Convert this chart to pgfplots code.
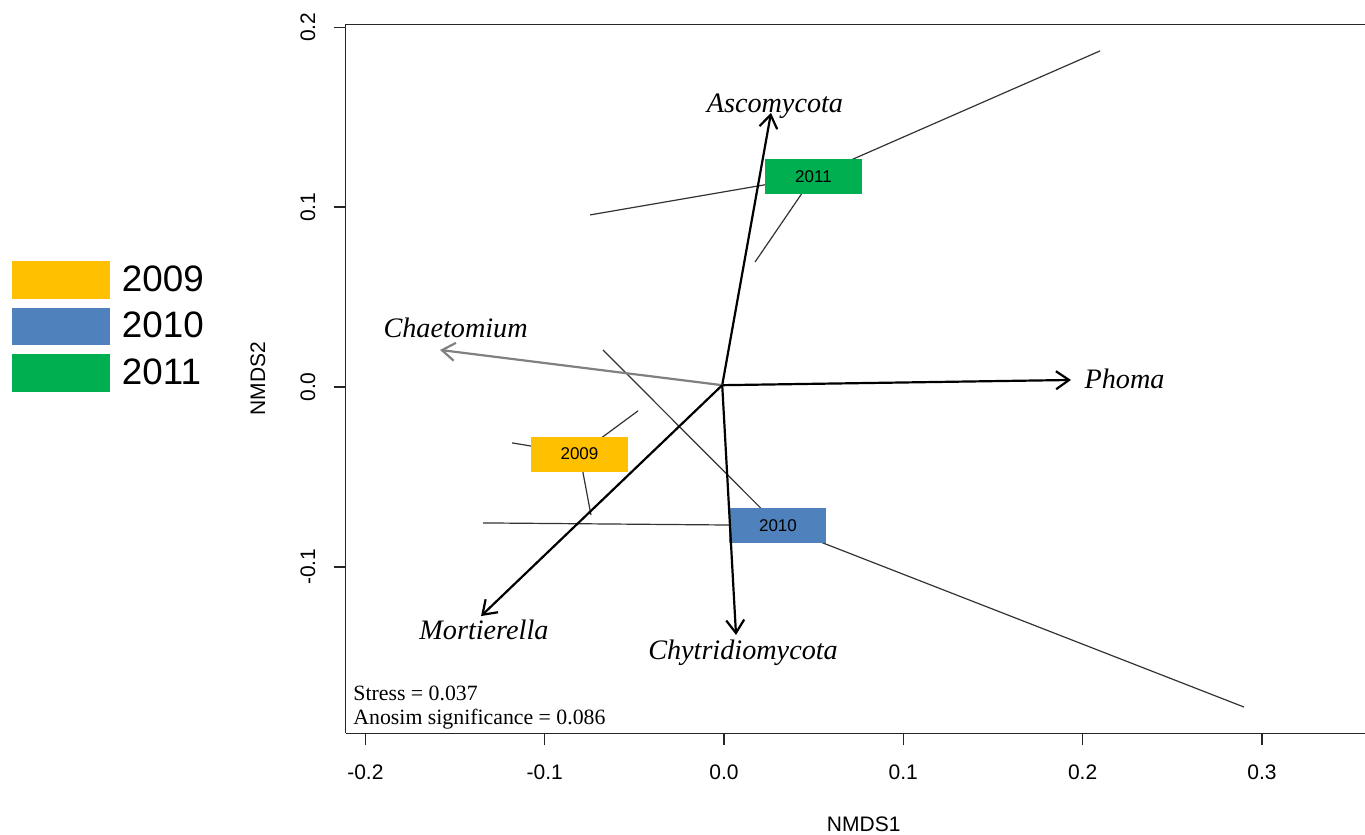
\documentclass[border=0pt]{standalone}
\usepackage{fontspec}
\setmainfont{Liberation Serif}
\setsansfont{Liberation Sans}
\usepackage{pgfplots}
\pgfplotsset{compat=1.18}
\usetikzlibrary{arrows.meta,calc}
\definecolor{c2009}{HTML}{FFC000}
\definecolor{c2010}{HTML}{4F81BD}
\definecolor{c2011}{HTML}{00B050}
\definecolor{spider}{HTML}{333333}
\begin{document}
\begin{tikzpicture}
\begin{axis}[
  scale only axis,
  width=511.9bp, height=354.4bp,
  xmin=-0.2110, xmax=0.36, ymin=-0.1926, ymax=0.2016,
  axis x line=box, axis y line=left,
  axis line style={-, line width=0.75bp, black!85},
  xtick={-0.2,-0.1,0,0.1,0.2,0.3}, ytick={-0.1,0,0.1,0.2},
  xticklabels={-0.2,-0.1,0.0,0.1,0.2,0.3}, yticklabels={-0.1,0.0,0.1,0.2},
  tick align=outside, xtick pos=bottom, ytick pos=left,
  major tick length=6bp, tick style={line width=0.75bp, black!85},
  xticklabel style={font=\sffamily\fontsize{10.5bp}{12bp}\selectfont, anchor=north, inner sep=0pt},
  yticklabel style={font=\sffamily\fontsize{10.5bp}{12bp}\selectfont, rotate=90, anchor=south, inner sep=0pt},
  xticklabel shift=9.8bp, yticklabel shift=9bp,
  xlabel={NMDS1}, ylabel={NMDS2},
  xlabel style={at={(rel axis cs:0.506,0)}, anchor=center, yshift=-45.5bp, font=\sffamily\fontsize{10.5bp}{12bp}\selectfont},
  ylabel style={at={($(rel axis cs:0,0.5)+(-43.9bp,0)$)}, anchor=center, font=\sffamily\fontsize{10.5bp}{12bp}\selectfont},
  legend style={at={(axis description cs:-0.326,0.6663)}, anchor=north west, draw=none, fill=none,
    inner sep=0pt, outer sep=0pt, row sep=4.5bp, column sep=6bp,
    font=\sffamily\fontsize{18.4bp}{20bp}\selectfont, nodes={inner sep=0pt}},
  legend cell align=left,
  legend image code/.code={\fill[#1] (0bp,-9.4bp) rectangle (49bp,9.4bp);},
]
\addlegendimage{fill=c2009, draw=none}\addlegendentry{2009}
\addlegendimage{fill=c2010, draw=none}\addlegendentry{2010}
\addlegendimage{fill=c2011, draw=none}\addlegendentry{2011}

% spider segments 2011
\addplot[spider, line width=0.6bp, forget plot] coordinates {(0.0499,0.1171) (0.2097,0.1869)};
\addplot[spider, line width=0.6bp, forget plot] coordinates {(0.0499,0.1171) (-0.0747,0.0957)};
\addplot[spider, line width=0.6bp, forget plot] coordinates {(0.0499,0.1171) (0.0173,0.0695)};
% spider segments 2009
\addplot[spider, line width=0.6bp, forget plot] coordinates {(-0.0806,-0.0373) (-0.1182,-0.0311)};
\addplot[spider, line width=0.6bp, forget plot] coordinates {(-0.0806,-0.0373) (-0.0480,-0.0133)};
\addplot[spider, line width=0.6bp, forget plot] coordinates {(-0.0806,-0.0373) (-0.0742,-0.0712)};
% spider segments 2010
\addplot[spider, line width=0.6bp, forget plot] coordinates {(0.0301,-0.0770) (-0.0675,0.0206)};
\addplot[spider, line width=0.6bp, forget plot] coordinates {(0.0301,-0.0770) (-0.1344,-0.0756)};
\addplot[spider, line width=0.6bp, forget plot] coordinates {(0.0301,-0.0770) (0.2900,-0.1780)};

% centroid labels
\node[fill=c2011, minimum width=48.5bp, minimum height=17.5bp, inner sep=0pt, font=\sffamily\fontsize{8.5bp}{10bp}\selectfont] at (axis cs:0.0499,0.1171) {2011};
\node[fill=c2009, minimum width=48.5bp, minimum height=17.5bp, inner sep=0pt, font=\sffamily\fontsize{8.5bp}{10bp}\selectfont] at (axis cs:-0.0806,-0.0373) {2009};
\node[fill=c2010, minimum width=48.5bp, minimum height=17.5bp, inner sep=0pt, font=\sffamily\fontsize{8.5bp}{10bp}\selectfont] at (axis cs:0.0301,-0.0770) {2010};

% vectors
\addplot[black, line width=1.1bp, -{Straight Barb[length=6.5bp, width=9bp]}, forget plot] coordinates {(-0.001,0.001) (0.0262,0.1524)};
\addplot[black, line width=1.1bp, -{Straight Barb[length=6.5bp, width=9bp]}, forget plot] coordinates {(-0.001,0.001) (0.1935,0.0039)};
\addplot[black!50, line width=1.1bp, -{Straight Barb[length=6.5bp, width=9bp]}, forget plot] coordinates {(-0.001,0.001) (-0.1584,0.0206)};
\addplot[black, line width=1.1bp, -{Straight Barb[length=6.5bp, width=9bp]}, forget plot] coordinates {(-0.001,0.001) (-0.1355,-0.1274)};
\addplot[black, line width=1.1bp, -{Straight Barb[length=6.5bp, width=9bp]}, forget plot] coordinates {(-0.001,0.001) (0.0067,-0.1379)};

% vector labels
\node[anchor=base, inner sep=0pt, font=\itshape\fontsize{14.1bp}{16bp}\selectfont] at (axis cs:0.0284,0.1529) {Ascomycota};
\node[anchor=base, inner sep=0pt, font=\itshape\fontsize{14.1bp}{16bp}\selectfont] at (axis cs:0.2234,-0.0006) {Phoma};
\node[anchor=base, inner sep=0pt, font=\itshape\fontsize{14.1bp}{16bp}\selectfont] at (axis cs:-0.1497,0.0278) {Chaetomium};
\node[anchor=base, inner sep=0pt, font=\itshape\fontsize{14.1bp}{16bp}\selectfont] at (axis cs:-0.1339,-0.1402) {Mortierella};
\node[anchor=base, inner sep=0pt, font=\itshape\fontsize{14.1bp}{16bp}\selectfont] at (axis cs:0.0106,-0.1513) {Chytridiomycota};

% stats
\node[anchor=west, inner sep=0pt, font=\fontsize{10.9bp}{13bp}\selectfont] at (axis cs:-0.2069,-0.1702) {Stress = 0.037};
\node[anchor=west, inner sep=0pt, font=\fontsize{10.9bp}{13bp}\selectfont] at (axis cs:-0.2069,-0.1846) {Anosim significance = 0.086};

\coordinate (bl) at (rel axis cs:0,0);
\coordinate (tl) at (rel axis cs:0,1);
\end{axis}
\pgfresetboundingbox
\path[use as bounding box] ($(bl)+(-172.85bp,-50.85bp)$) rectangle ($(tl)+(509.65bp,12.25bp)$);
\end{tikzpicture}
\end{document}
